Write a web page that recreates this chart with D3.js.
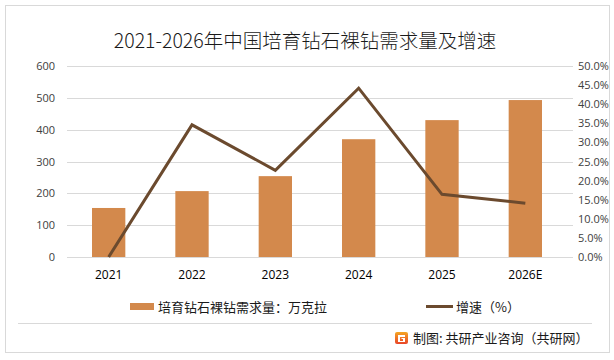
<!DOCTYPE html>
<html><head><meta charset="utf-8">
<script src="https://cdn.jsdelivr.net/npm/d3@7"></script>
<style>
html,body{margin:0;padding:0;background:#fff;}
svg{display:block;font-family:"Noto Sans CJK SC","Microsoft YaHei",sans-serif;}
</style></head>
<body>
<svg id="c" width="614" height="360"></svg>
<script>
const years = ["2021","2022","2023","2024","2025","2026E"];
const demand = [154, 207, 254, 370, 430, 493];
const growth = [0.0, 34.6, 22.7, 44.2, 16.4, 14.1];
const leftTicks = [0,100,200,300,400,500,600];
const rightTicks = [0,5,10,15,20,25,30,35,40,45,50];
const titleText = "2021-2026年中国培育钻石裸钻需求量及增速";
const legendBar = "培育钻石裸钻需求量：万克拉";
const legendLine = "增速（%）";
const sourceText = "制图: 共研产业咨询（共研网）";

const svg = d3.select("#c");
const m = {left:67, right:567, top:66, bottom:257};

// outer frame
svg.append("rect").attr("x",5.5).attr("y",5.5).attr("width",604).attr("height",347)
  .attr("fill","#fff").attr("stroke","#d9d9d9").attr("stroke-width",1);
svg.append("line").attr("x1",18).attr("x2",592).attr("y1",323.5).attr("y2",323.5)
  .attr("stroke","#d9d9d9").attr("stroke-width",1);

const x = d3.scaleBand().domain(years).range([m.left, m.right]).paddingInner(0.6).paddingOuter(0.3);
const yL = d3.scaleLinear().domain([0,600]).range([m.bottom, m.top]);
const yR = d3.scaleLinear().domain([0,50]).range([m.bottom, m.top]);

// gridlines
svg.append("g").selectAll("line").data(leftTicks).join("line")
  .attr("x1",m.left).attr("x2",m.right+6)
  .attr("y1",d=>Math.round(yL(d))+0.5).attr("y2",d=>Math.round(yL(d))+0.5)
  .attr("stroke","#d9d9d9").attr("stroke-width",1);

// left axis
const gl = svg.append("g").attr("transform",`translate(${m.left},0)`)
  .call(d3.axisLeft(yL).tickValues(leftTicks).tickSize(0).tickPadding(12).tickFormat(d3.format("d")));
gl.select(".domain").remove();
gl.selectAll("text").attr("font-size",11).attr("fill","#404040").attr("font-family","'Open Sans','Noto Sans',sans-serif");

// right axis
const gr = svg.append("g").attr("transform",`translate(${m.right+11},0)`)
  .call(d3.axisRight(yR).tickValues(rightTicks).tickSize(0).tickPadding(0).tickFormat(d=>d.toFixed(1)+"%"));
gr.select(".domain").remove();
gr.selectAll("text").attr("font-size",11).attr("fill","#404040").attr("font-family","'Open Sans','Noto Sans',sans-serif");

// bars
svg.append("g").selectAll("rect").data(years).join("rect")
  .attr("x",d=>x(d)).attr("width",x.bandwidth())
  .attr("y",(d,i)=>yL(demand[i])).attr("height",(d,i)=>yL(0)-yL(demand[i]))
  .attr("fill","#d3894c");

// x axis labels
const gx = svg.append("g").attr("transform",`translate(0,${m.bottom})`)
  .call(d3.axisBottom(x).tickSize(0).tickPadding(13));
gx.select(".domain").remove();
gx.selectAll("text").attr("font-size",12).attr("fill","#000").attr("font-family","'Open Sans','Noto Sans',sans-serif");

// line
const line = d3.line().x((d,i)=>x(years[i])+x.bandwidth()/2).y(d=>yR(d));
svg.append("path").datum(growth).attr("d",line)
  .attr("fill","none").attr("stroke","#6b4a2e").attr("stroke-width",3).attr("stroke-linejoin","miter");

// title
svg.append("text").attr("x",305).attr("y",48).attr("text-anchor","middle")
  .attr("font-size",19.5).attr("fill","#1a1a1a").attr("font-weight",300).text(titleText);

// legend
svg.append("rect").attr("x",130).attr("y",303).attr("width",24).attr("height",7).attr("fill","#d3894c");
svg.append("text").attr("x",158).attr("y",311.5).attr("font-size",13).attr("fill","#1a1a1a").text(legendBar);
svg.append("line").attr("x1",426).attr("x2",453).attr("y1",306.5).attr("y2",306.5)
  .attr("stroke","#6b4a2e").attr("stroke-width",3);
svg.append("text").attr("x",456).attr("y",311.5).attr("font-size",13).attr("fill","#1a1a1a").text(legendLine);

// source logo
const defs = svg.append("defs");
const lg = defs.append("linearGradient").attr("id","lg").attr("x1",0).attr("y1",0).attr("x2",0).attr("y2",1);
lg.append("stop").attr("offset","0%").attr("stop-color","#f5a623");
lg.append("stop").attr("offset","100%").attr("stop-color","#e8452a");
svg.append("rect").attr("x",395).attr("y",332).attr("width",13).attr("height",12).attr("rx",2).attr("fill","url(#lg)");
svg.append("path").attr("d","M398,335 H405 V337 H400 V341 H403 V339 H401.5 V338 H405 V342 H398 Z").attr("fill","#fff");
svg.append("text").attr("x",413).attr("y",343).attr("font-size",13).attr("fill","#1a1a1a").text(sourceText);
</script>
</body></html>
